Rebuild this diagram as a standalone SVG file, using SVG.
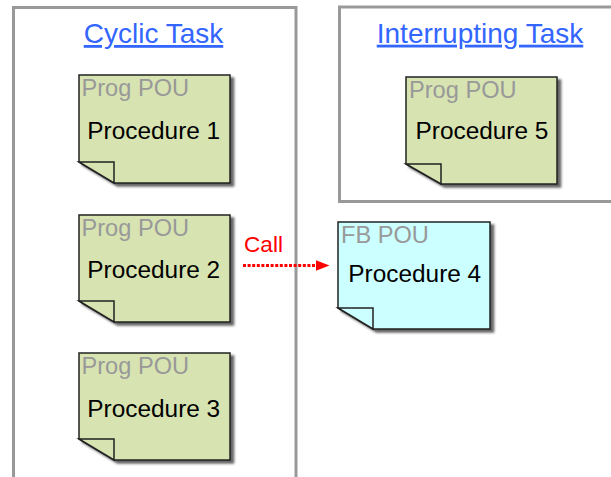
<svg xmlns="http://www.w3.org/2000/svg" width="611" height="477" viewBox="0 0 611 477">
<style>
.box{fill:none;stroke:#999999;stroke-width:3}
.title{font-family:"Liberation Sans",Arial,sans-serif;font-size:28px;fill:#3366ff;text-decoration:underline;text-anchor:middle}
.green{fill:#d7e4b2;stroke:#222;stroke-width:1.5;stroke-linejoin:miter}
.cyan{fill:#ccffff;stroke:#222;stroke-width:1.5;stroke-linejoin:miter}
.kind{font-family:"Liberation Sans",Arial,sans-serif;font-size:23.6px;fill:#999999}
.name{font-family:"Liberation Sans",Arial,sans-serif;font-size:24.4px;fill:#000}
.call{font-family:"Liberation Sans",Arial,sans-serif;font-size:22.6px;fill:#ff0000}
</style>
<defs>
<filter id="sh" x="-10%" y="-10%" width="130%" height="130%">
<feDropShadow dx="3.5" dy="3" stdDeviation="0.8" flood-color="#333" flood-opacity="0.75"/>
</filter>
<marker id="arr" markerWidth="14" markerHeight="11" refX="0" refY="5.5" orient="auto" markerUnits="userSpaceOnUse">
<path d="M0,0 L14,5.5 L0,11 Z" fill="#ff0000"/>
</marker>
</defs>
<g id="cyclic-task">
<rect class="box" x="13.5" y="7.5" width="282.5" height="500"/>
<text class="title" x="153.5" y="43">Cyclic Task</text>
</g>
<g id="interrupting-task">
<rect class="box" x="339.5" y="7" width="300" height="194.5"/>
<text class="title" x="480" y="42.7">Interrupting Task</text>
</g>
<g id="proc1">
<g filter="url(#sh)">
<path class="green" d="M79,75 H230 V183 H114 L79,162 Z"/>
</g>
<path class="green" d="M79,162 H114 V183 Z"/>
<text class="kind" x="81.5" y="96">Prog POU</text>
<text class="name" x="87.3" y="138.7">Procedure 1</text>
</g>
<g id="proc2">
<g filter="url(#sh)">
<path class="green" d="M79,215 H230 V322 H114 L79,301 Z"/>
</g>
<path class="green" d="M79,301 H114 V322 Z"/>
<text class="kind" x="81.5" y="236">Prog POU</text>
<text class="name" x="87.3" y="278.3">Procedure 2</text>
</g>
<g id="proc3">
<g filter="url(#sh)">
<path class="green" d="M79,353 H230 V460 H114 L79,439 Z"/>
</g>
<path class="green" d="M79,439 H114 V460 Z"/>
<text class="kind" x="81.5" y="374">Prog POU</text>
<text class="name" x="87.3" y="416.7">Procedure 3</text>
</g>
<g id="proc5">
<g filter="url(#sh)">
<path class="green" d="M406,77 H557 V184 H441 L406,164 Z"/>
</g>
<path class="green" d="M406,164 H441 V184 Z"/>
<text class="kind" x="409" y="97.7">Prog POU</text>
<text class="name" x="415.5" y="139.3">Procedure 5</text>
</g>
<g id="proc4">
<g filter="url(#sh)">
<path class="cyan" d="M338,222 H490 V329 H373 L338,308 Z"/>
</g>
<path class="cyan" d="M338,308 H373 V329 Z"/>
<text class="kind" x="341" y="242.7">FB POU</text>
<text class="name" x="348.3" y="282.3">Procedure 4</text>
</g>
<g id="connectors">
<line x1="243" y1="265.5" x2="315.5" y2="265.5" stroke="#ff0000" stroke-width="3" stroke-dasharray="3 1.6" marker-end="url(#arr)"/>
<text class="call" x="244" y="251.7">Call</text>
</g>
</svg>
